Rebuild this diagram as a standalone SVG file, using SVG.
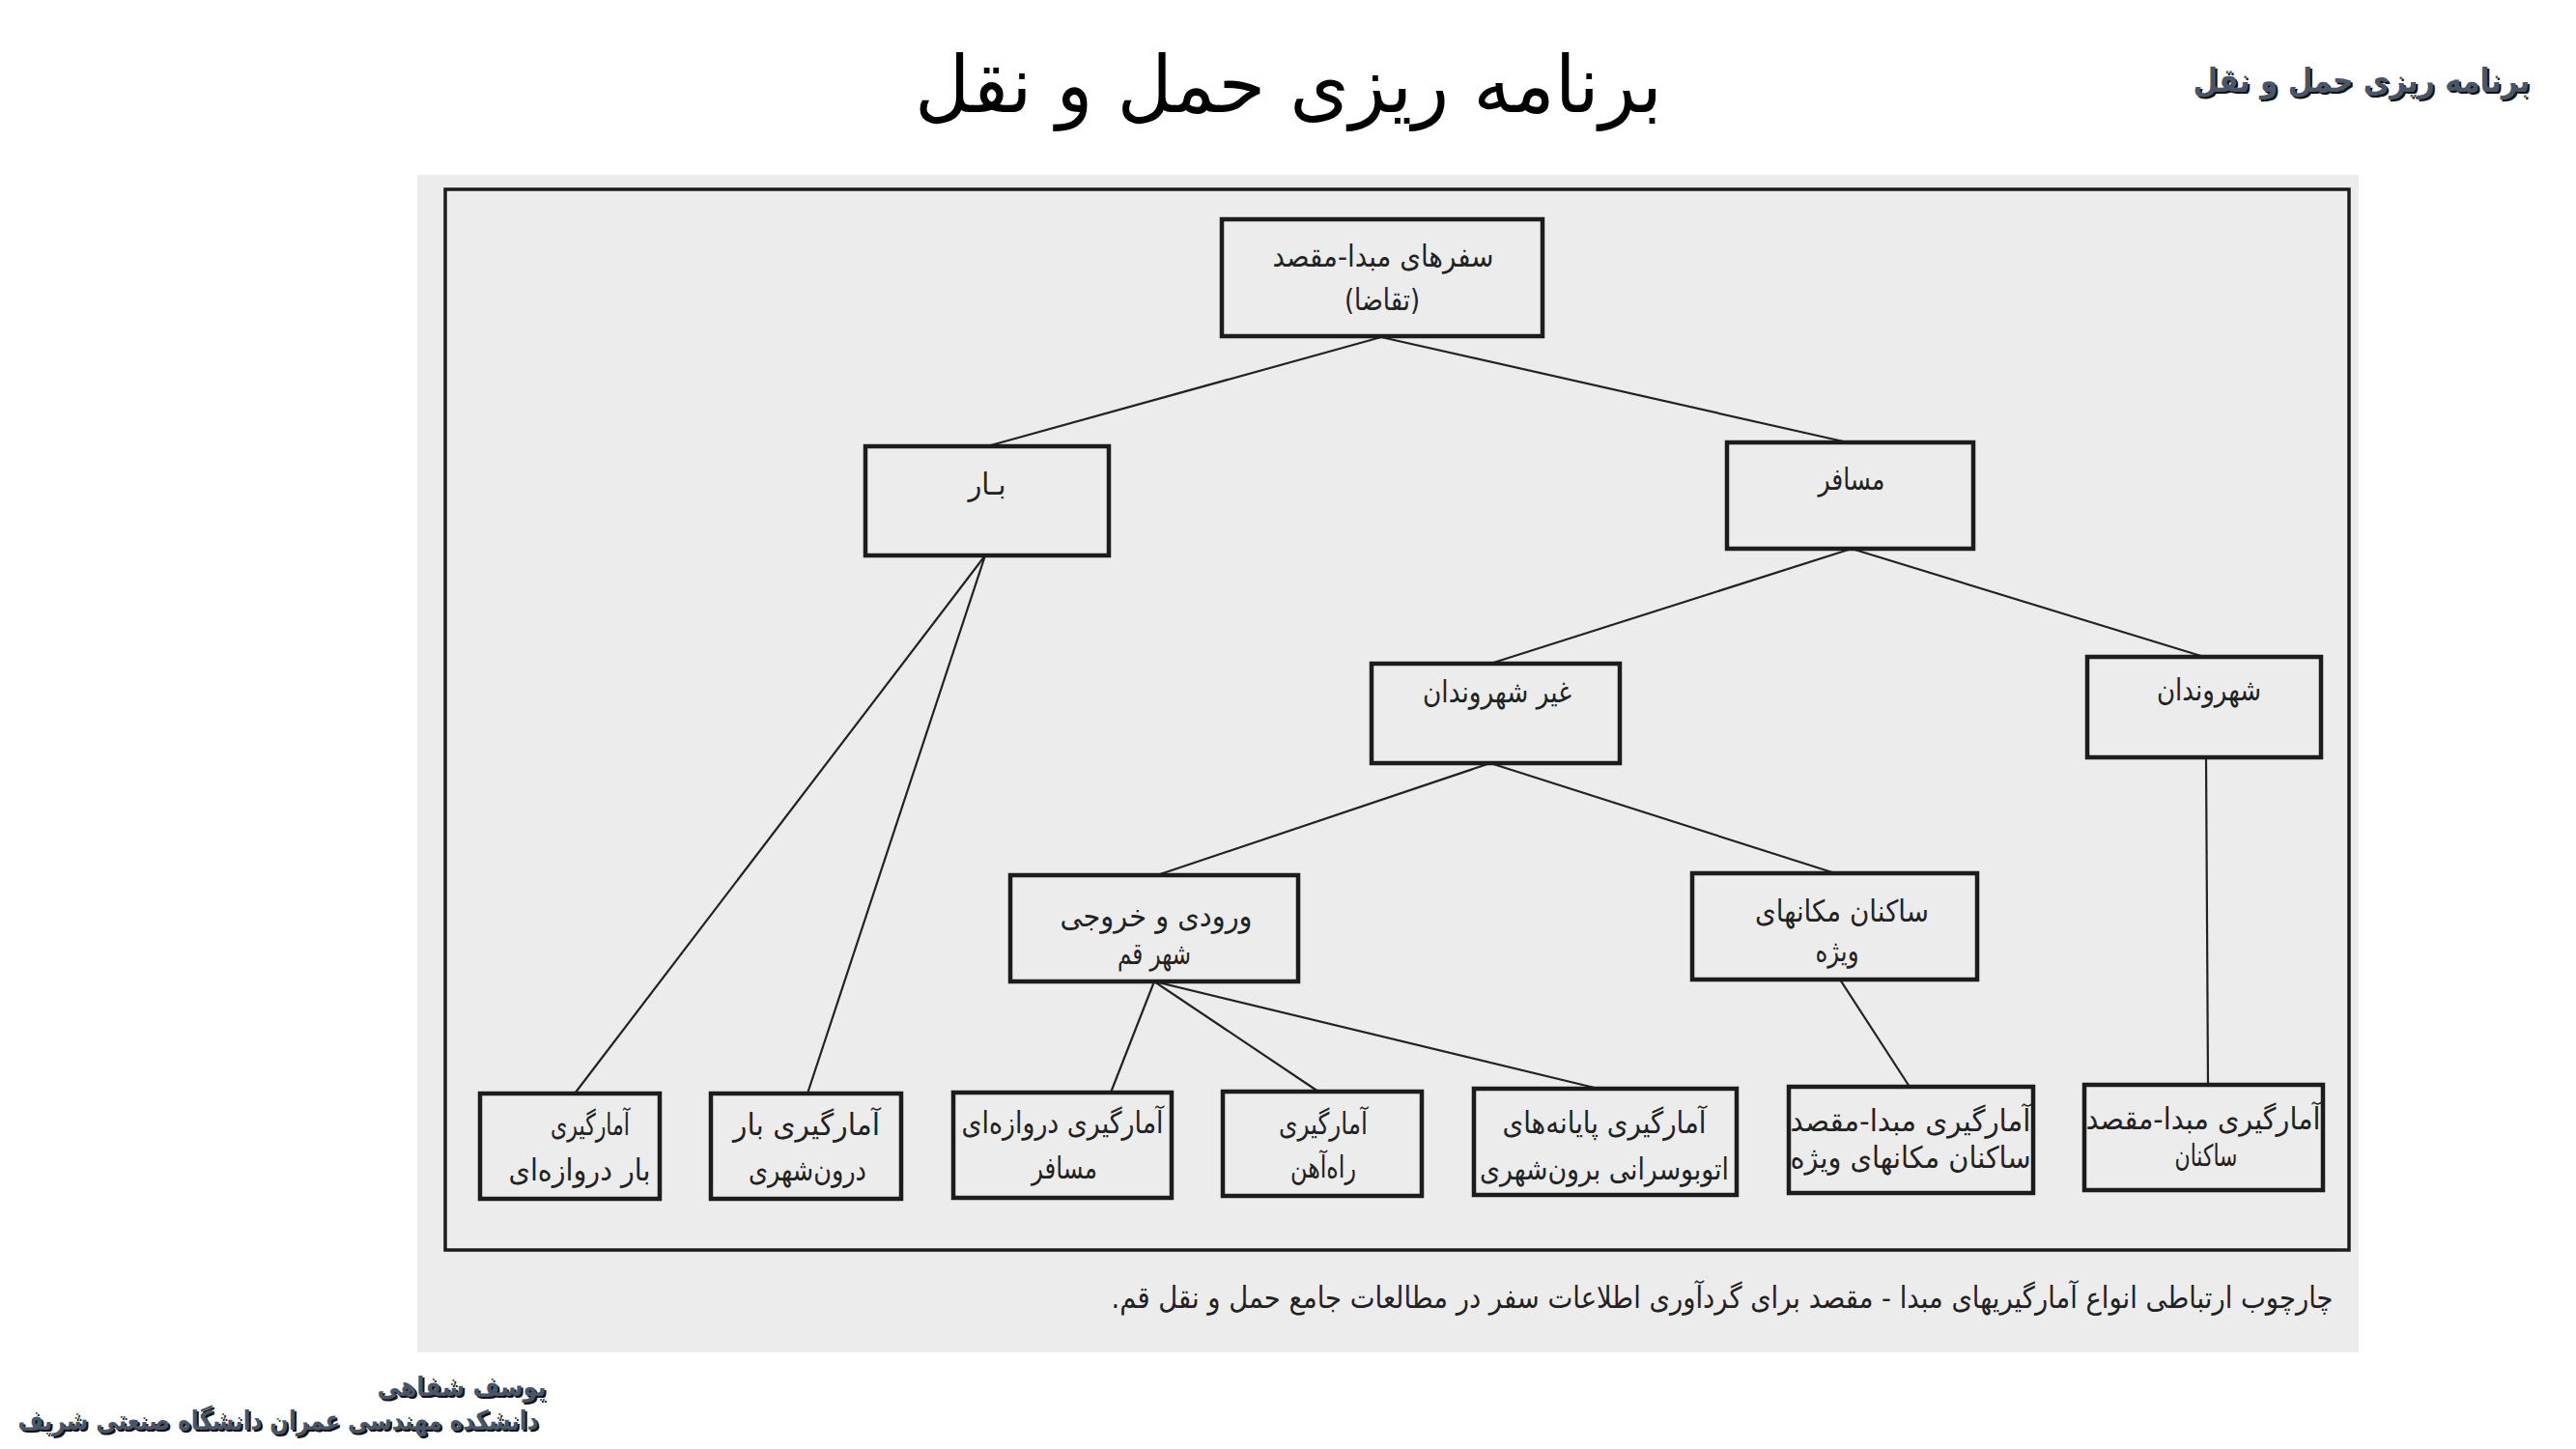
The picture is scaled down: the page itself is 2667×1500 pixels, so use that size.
<svg xmlns="http://www.w3.org/2000/svg" width="2667" height="1500" viewBox="0 0 2667 1500">
<style>
.box{fill:none;stroke:#1c1c1c;stroke-width:4.5;}
.lbl{font-family:'DejaVu Sans','Noto Sans',sans-serif;font-size:31px;fill:#222;text-anchor:middle;}
.con line{stroke:#222;stroke-width:2.2;}
.hdr{font-family:'DejaVu Sans','Noto Sans',sans-serif;font-weight:bold;text-anchor:middle;}
</style>
<rect width="2667" height="1500" fill="#ffffff"/>
<!-- scanned page area -->
<rect x="432" y="181" width="2010" height="1219" fill="#ececec"/>
<!-- title -->
<text x="1334" y="116" font-family="'DejaVu Sans','Noto Sans',sans-serif" font-size="82" fill="#000" text-anchor="middle" textLength="774" lengthAdjust="spacingAndGlyphs">برنامه ریزی حمل و نقل</text>
<!-- top-right header -->
<text class="hdr" x="2447" y="97" font-size="34" fill="#111" textLength="349" lengthAdjust="spacingAndGlyphs">برنامه ریزی حمل و نقل</text>
<text class="hdr" x="2445" y="95" font-size="34" fill="#47566a" textLength="349" lengthAdjust="spacingAndGlyphs">برنامه ریزی حمل و نقل</text>
<!-- bottom-left credits -->
<text class="hdr" x="480" y="1447" font-size="28" fill="#111" textLength="175" lengthAdjust="spacingAndGlyphs">یوسف شفاهی</text>
<text class="hdr" x="478" y="1445" font-size="28" fill="#47566a" textLength="175" lengthAdjust="spacingAndGlyphs">یوسف شفاهی</text>
<text class="hdr" x="290" y="1482" font-size="28" fill="#111" textLength="539" lengthAdjust="spacingAndGlyphs">دانشکده مهندسی عمران  دانشگاه صنعتی شریف</text>
<text class="hdr" x="288" y="1480" font-size="28" fill="#47566a" textLength="539" lengthAdjust="spacingAndGlyphs">دانشکده مهندسی عمران  دانشگاه صنعتی شریف</text>
<!-- outer frame of the figure -->
<rect x="461" y="196" width="1971" height="1098" fill="none" stroke="#1c1c1c" stroke-width="3.5"/>
<!-- caption -->
<text class="lbl" x="1783" y="1354" font-size="29" direction="rtl" textLength="1265" lengthAdjust="spacingAndGlyphs">چارچوب ارتباطی انواع آمارگیریهای مبدا - مقصد برای گردآوری اطلاعات سفر در مطالعات جامع حمل و نقل قم.</text>

<g id="connectors" class="con">
  <line x1="1430" y1="349" x2="1022" y2="462"/>
  <line x1="1430" y1="349" x2="1913" y2="458"/>
  <line x1="1917" y1="568" x2="1543" y2="687"/>
  <line x1="1917" y1="568" x2="2282" y2="680"/>
  <line x1="1020" y1="575" x2="595" y2="1132"/>
  <line x1="1020" y1="575" x2="836" y2="1132"/>
  <line x1="1543" y1="790" x2="1198" y2="906"/>
  <line x1="1543" y1="790" x2="1900" y2="904"/>
  <line x1="1195" y1="1016" x2="1150" y2="1131"/>
  <line x1="1195" y1="1016" x2="1365" y2="1130"/>
  <line x1="1195" y1="1016" x2="1655" y2="1127"/>
  <line x1="1905" y1="1014" x2="1977" y2="1125"/>
  <line x1="2284" y1="784" x2="2286" y2="1123"/>
</g>

<g id="n-demand">
  <rect class="box" x="1265" y="227" width="332" height="121"/>
  <text class="lbl" x="1432" y="276" textLength="229" lengthAdjust="spacingAndGlyphs">سفرهای مبدا-مقصد</text>
  <text class="lbl" x="1431" y="321" textLength="78" lengthAdjust="spacingAndGlyphs">(تقاضا)</text>
</g>
<g id="n-freight">
  <rect class="box" x="896" y="462" width="252" height="113"/>
  <text class="lbl" x="1022" y="512" textLength="39" lengthAdjust="spacingAndGlyphs">بـار</text>
</g>
<g id="n-passenger">
  <rect class="box" x="1788" y="458" width="255" height="110"/>
  <text class="lbl" x="1917" y="507" textLength="69" lengthAdjust="spacingAndGlyphs">مسافر</text>
</g>
<g id="n-noncitizens">
  <rect class="box" x="1420" y="687" width="257" height="103"/>
  <text class="lbl" x="1550" y="727" textLength="154" lengthAdjust="spacingAndGlyphs">غیر شهروندان</text>
</g>
<g id="n-citizens">
  <rect class="box" x="2161" y="680" width="242" height="104"/>
  <text class="lbl" x="2287" y="725" textLength="108" lengthAdjust="spacingAndGlyphs">شهروندان</text>
</g>
<g id="n-inout">
  <rect class="box" x="1046" y="906" width="298" height="110"/>
  <text class="lbl" x="1197" y="959" textLength="199" lengthAdjust="spacingAndGlyphs">ورودی و خروجی</text>
  <text class="lbl" x="1195" y="998" textLength="76" lengthAdjust="spacingAndGlyphs">شهر قم</text>
</g>
<g id="n-special">
  <rect class="box" x="1752" y="904" width="295" height="110"/>
  <text class="lbl" x="1907" y="954" textLength="180" lengthAdjust="spacingAndGlyphs">ساکنان مکانهای</text>
  <text class="lbl" x="1902" y="995" textLength="45" lengthAdjust="spacingAndGlyphs">ویژه</text>
</g>
<g id="n-gate-freight">
  <rect class="box" x="497" y="1132" width="186" height="109"/>
  <text class="lbl" x="611" y="1175" textLength="82" lengthAdjust="spacingAndGlyphs">آمارگیری</text>
  <text class="lbl" x="600" y="1222" textLength="147" lengthAdjust="spacingAndGlyphs">بار دروازه&#8204;ای</text>
</g>
<g id="n-urban-freight">
  <rect class="box" x="736" y="1132" width="197" height="109"/>
  <text class="lbl" x="835" y="1175" textLength="152" lengthAdjust="spacingAndGlyphs">آمارگیری بار</text>
  <text class="lbl" x="836" y="1222" textLength="122" lengthAdjust="spacingAndGlyphs">درون&#8204;شهری</text>
</g>
<g id="n-gate-pass">
  <rect class="box" x="987" y="1131" width="226" height="109"/>
  <text class="lbl" x="1100" y="1173" textLength="209" lengthAdjust="spacingAndGlyphs">آمارگیری دروازه&#8204;ای</text>
  <text class="lbl" x="1102" y="1220" textLength="68" lengthAdjust="spacingAndGlyphs">مسافر</text>
</g>
<g id="n-rail">
  <rect class="box" x="1266" y="1130" width="206" height="108"/>
  <text class="lbl" x="1370" y="1174" textLength="92" lengthAdjust="spacingAndGlyphs">آمارگیری</text>
  <text class="lbl" x="1370" y="1219" textLength="68" lengthAdjust="spacingAndGlyphs">راه&#8204;آهن</text>
</g>
<g id="n-bus">
  <rect class="box" x="1526" y="1127" width="272" height="110"/>
  <text class="lbl" x="1661" y="1173" textLength="211" lengthAdjust="spacingAndGlyphs">آمارگیری پایانه&#8204;های</text>
  <text class="lbl" x="1661" y="1221" textLength="258" lengthAdjust="spacingAndGlyphs">اتوبوسرانی برون&#8204;شهری</text>
</g>
<g id="n-od-special">
  <rect class="box" x="1852" y="1125" width="253" height="110"/>
  <text class="lbl" x="1978" y="1171" textLength="249" lengthAdjust="spacingAndGlyphs">آمارگیری مبدا-مقصد</text>
  <text class="lbl" x="1978" y="1209" textLength="249" lengthAdjust="spacingAndGlyphs">ساکنان مکانهای ویژه</text>
</g>
<g id="n-od-residents">
  <rect class="box" x="2158" y="1123" width="247" height="109"/>
  <text class="lbl" x="2281" y="1169" textLength="243" lengthAdjust="spacingAndGlyphs">آمارگیری مبدا-مقصد</text>
  <text class="lbl" x="2284" y="1207" textLength="65" lengthAdjust="spacingAndGlyphs">ساکنان</text>
</g>
</svg>
